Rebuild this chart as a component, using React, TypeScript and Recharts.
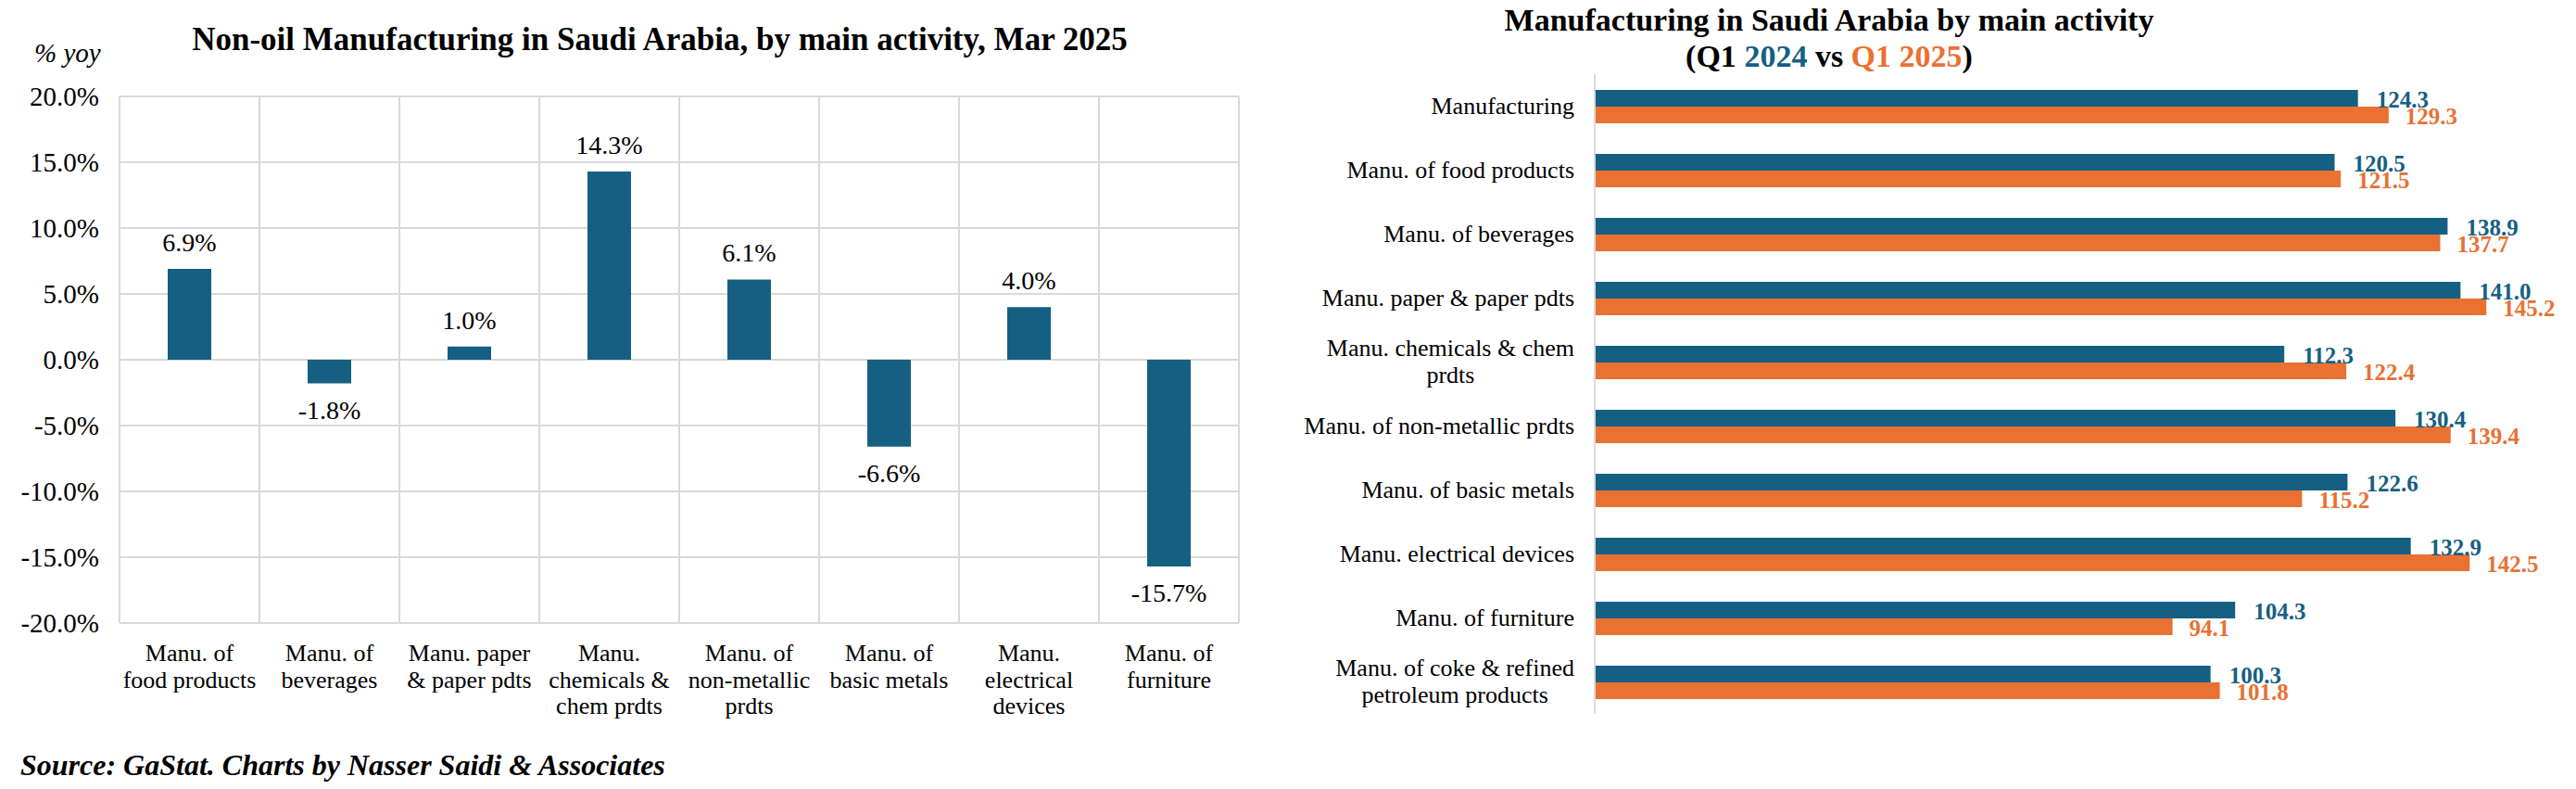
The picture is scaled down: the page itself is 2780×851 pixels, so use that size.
import React from 'react';
import { BarChart, Bar, XAxis, YAxis, CartesianGrid, LabelList } from 'recharts';

const FONT = '"Liberation Serif", "Times New Roman", serif';
const BLUE = '#156082';
const ORANGE = '#E97132';
const GRID = '#d9d9d9';

// left: non-oil manufacturing, % yoy, Mar 2025
const yoyCategories = [
  ['Manu. of', 'food products'],
  ['Manu. of', 'beverages'],
  ['Manu. paper', '& paper pdts'],
  ['Manu.', 'chemicals &', 'chem prdts'],
  ['Manu. of', 'non-metallic', 'prdts'],
  ['Manu. of', 'basic metals'],
  ['Manu.', 'electrical', 'devices'],
  ['Manu. of', 'furniture'],
];
const yoyValues = [6.9, -1.8, 1.0, 14.3, 6.1, -6.6, 4.0, -15.7];
const yoyTicks = [-20, -15, -10, -5, 0, 5, 10, 15, 20];

// right: index by main activity, Q1 2024 vs Q1 2025
const activityLines = [
  ['Manufacturing'],
  ['Manu. of food products'],
  ['Manu. of beverages'],
  ['Manu. paper & paper pdts'],
  ['Manu. chemicals & chem', 'prdts'],
  ['Manu. of non-metallic prdts'],
  ['Manu. of basic metals'],
  ['Manu. electrical devices'],
  ['Manu. of furniture'],
  ['Manu. of coke & refined', 'petroleum products'],
];
const q1_2024 = [124.3, 120.5, 138.9, 141.0, 112.3, 130.4, 122.6, 132.9, 104.3, 100.3];
const q1_2025 = [129.3, 121.5, 137.7, 145.2, 122.4, 139.4, 115.2, 142.5, 94.1, 101.8];

const yoyData = yoyCategories.map((lines, i) => ({ name: lines.join(' '), value: yoyValues[i] }));
const activityData = activityLines.map((lines, i) => ({
  name: lines.join(' '),
  y2024: q1_2024[i],
  y2025: q1_2025[i],
}));

let ctx: CanvasRenderingContext2D | null = null;
function measure(text: string, font: string) {
  if (!ctx) ctx = document.createElement('canvas').getContext('2d');
  if (!ctx) return text.length * 12;
  ctx.font = font;
  return ctx.measureText(text).width;
}

// label props differ a bit between versions, so read the box from either place
function box(props: any) {
  const vb = props.viewBox || {};
  const x = typeof props.x === 'number' ? props.x : vb.x;
  const y = typeof props.y === 'number' ? props.y : vb.y;
  const width = typeof props.width === 'number' ? props.width : vb.width;
  const height = typeof props.height === 'number' ? props.height : vb.height;
  return { x, y, width, height };
}

const YoyLabel = (props: any) => {
  const { x, y, width, height } = box(props);
  const v = Number(props.value);
  const top = Math.min(y, y + height);
  const bottom = Math.max(y, y + height);
  const ty = v >= 0 ? top - 19 : bottom + 38;
  return (
    <text x={x + width / 2} y={ty} textAnchor="middle" fontSize={28} fontFamily={FONT} fill="#000">
      {v.toFixed(1)}%
    </text>
  );
};

const YoyTick = (props: any) => {
  const { x, y, index } = props;
  const lines = yoyCategories[index] || [];
  return (
    <g>
      {lines.map((l, i) => (
        <text key={i} x={x} y={y + 41 + i * 28.5} textAnchor="middle" fontSize={26} fontFamily={FONT} fill="#000">
          {l}
        </text>
      ))}
    </g>
  );
};

const ActivityTick = (props: any) => {
  const { x, y, index } = props;
  const lines = activityLines[index] || [];
  if (lines.length === 1) {
    return (
      <text x={x} y={y + 8} textAnchor="end" fontSize={26} fontFamily={FONT} fill="#000">
        {lines[0]}
      </text>
    );
  }
  const w = measure(lines[0], `26px ${FONT}`);
  const cx = x - w / 2;
  return (
    <g>
      <text x={cx} y={y - 7} textAnchor="middle" fontSize={26} fontFamily={FONT} fill="#000">
        {lines[0]}
      </text>
      <text x={cx} y={y + 22} textAnchor="middle" fontSize={26} fontFamily={FONT} fill="#000">
        {lines[1]}
      </text>
    </g>
  );
};

const valueLabel = (color: string, dx: number) => (props: any) => {
  const { x, y, width, height } = box(props);
  return (
    <text x={x + width + dx} y={y + height / 2 + 10} fontSize={25} fontWeight="bold" fontFamily={FONT} fill={color}>
      {Number(props.value).toFixed(1)}
    </text>
  );
};

export default function App() {
  return (
    <div
      style={{
        position: 'absolute',
        left: 0,
        top: 0,
        width: 2780,
        height: 851,
        overflow: 'hidden',
        background: '#fff',
        fontFamily: FONT,
      }}
    >
      <svg width={2780} height={851} style={{ position: 'absolute', left: 0, top: 0 }}>
        <text x={712} y={54} textAnchor="middle" fontSize={35} fontWeight="bold" fontFamily={FONT}>
          Non-oil Manufacturing in Saudi Arabia, by main activity, Mar 2025
        </text>
        <text x={37} y={67} fontSize={29} fontStyle="italic" fontFamily={FONT}>
          % yoy
        </text>
        <text x={22} y={836} fontSize={32} fontStyle="italic" fontWeight="bold" fontFamily={FONT}>
          Source: GaStat. Charts by Nasser Saidi &amp; Associates
        </text>
        <text x={1974} y={33} textAnchor="middle" fontSize={34} fontWeight="bold" fontFamily={FONT}>
          Manufacturing in Saudi Arabia by main activity
        </text>
        <text x={1974} y={72} textAnchor="middle" fontSize={34} fontWeight="bold" fontFamily={FONT}>
          (Q1 <tspan fill={BLUE}>2024</tspan> vs <tspan fill={ORANGE}>Q1 2025</tspan>)
        </text>
      </svg>

      <div style={{ position: 'absolute', left: 0, top: 0 }}>
        <BarChart width={1400} height={851} data={yoyData} margin={{ top: 104, right: 63, bottom: 0, left: 0 }}>
          <CartesianGrid
            stroke={GRID}
            strokeWidth={2}
            verticalCoordinatesGenerator={({ offset }: any) =>
              Array.from({ length: yoyData.length + 1 }, (_, i) => offset.left + (i * offset.width) / yoyData.length)
            }
          />
          <XAxis
            dataKey="name"
            height={179}
            axisLine={false}
            tickLine={false}
            tickSize={0}
            tickMargin={0}
            interval={0}
            tick={<YoyTick />}
          />
          <YAxis
            type="number"
            domain={[-20, 20]}
            ticks={yoyTicks}
            width={129}
            axisLine={false}
            tickLine={false}
            tickSize={0}
            tickMargin={22}
            tickFormatter={(v: number) => `${v.toFixed(1)}%`}
            tick={{ fontSize: 29, fontFamily: FONT, fill: '#000' }}
          />
          <Bar dataKey="value" fill={BLUE} barSize={47} isAnimationActive={false}>
            <LabelList dataKey="value" content={YoyLabel} />
          </Bar>
        </BarChart>
      </div>

      <div style={{ position: 'absolute', left: 1400, top: 0 }}>
        <BarChart
          width={1380}
          height={851}
          data={activityData}
          layout="vertical"
          barGap={0}
          margin={{ top: 80, right: 65, bottom: 81, left: 0 }}
        >
          <XAxis type="number" domain={[0, 150]} hide />
          <YAxis
            type="category"
            dataKey="name"
            width={321}
            axisLine={{ stroke: GRID, strokeWidth: 2 }}
            tickLine={false}
            tickSize={0}
            tickMargin={22}
            interval={0}
            tick={<ActivityTick />}
          />
          <Bar dataKey="y2024" fill={BLUE} barSize={18} isAnimationActive={false}>
            <LabelList dataKey="y2024" content={valueLabel(BLUE, 20)} />
          </Bar>
          <Bar dataKey="y2025" fill={ORANGE} barSize={18} isAnimationActive={false}>
            <LabelList dataKey="y2025" content={valueLabel(ORANGE, 18)} />
          </Bar>
        </BarChart>
      </div>
    </div>
  );
}
